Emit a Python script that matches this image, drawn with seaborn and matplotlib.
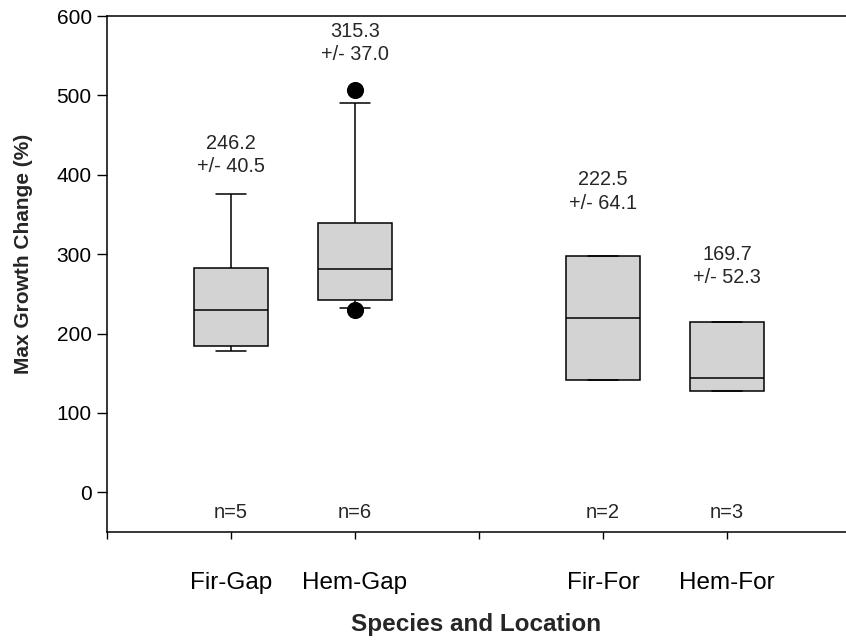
import numpy as np
import pandas as pd
import matplotlib
matplotlib.use("Agg")
import matplotlib.pyplot as plt
import seaborn as sns

# values
groups = ["Fir-Gap", "Hem-Gap", "Fir-For", "Hem-For"]
n_obs = [5, 6, 2, 3]
whisker_low = [178, 232, 142, 127]
quart_low = [184, 242, 142, 127]
medians = [230, 281, 219, 144]
quart_high = [283, 339, 298, 214]
whisker_high = [376, 490, 298, 214]
outlier_group = ["Hem-Gap", "Hem-Gap"]
outlier_values = [507, 230]
means = [246.2, 315.3, 222.5, 169.7]
errors = [40.5, 37.0, 64.1, 52.3]

# layout
xpos = {"Fir-Gap": 1, "Hem-Gap": 2, "Fir-For": 4, "Hem-For": 5}
label_y = [425, 566, 379, 285]

# five-number summary per group -> with whis=(0, 100) and 5 values,
# the drawn box is exactly (min, q1, median, q3, max)
rows = []
for i, g in enumerate(groups):
    for v in [whisker_low[i], quart_low[i], medians[i], quart_high[i], whisker_high[i]]:
        rows.append({"group": g, "pos": xpos[g], "value": v})
df = pd.DataFrame(rows)

sns.set_theme(style="ticks")
plt.rcParams["font.family"] = ["Liberation Sans", "DejaVu Sans"]

fig = plt.figure(figsize=(8.46, 6.42), dpi=100)
ax = fig.add_axes([107 / 846, 110 / 642, 1 - 107 / 846, 516 / 642])

sns.boxplot(data=df, x="pos", y="value", native_scale=True, orient="x",
            whis=(0, 100), showfliers=False, width=0.6, color="#d3d3d3",
            saturation=1, linecolor="black", linewidth=1.1,
            capwidths=0.24, ax=ax)

sns.scatterplot(x=[xpos[g] for g in outlier_group], y=outlier_values,
                color="black", edgecolor="black", s=130, zorder=5,
                legend=False, ax=ax)

for i, g in enumerate(groups):
    ax.text(xpos[g], label_y[i], f"{means[i]:.1f}\n+/- {errors[i]:.1f}",
            ha="center", va="center", fontsize=14.3, linespacing=1.3)
    ax.text(xpos[g], -25, f"n={n_obs[i]}", ha="center", va="center",
            fontsize=14.5)

ax.set_xlim(0, (846 - 107) / 124)
ax.set_ylim(-50, 600)
ax.set_xticks(range(0, 6))
ax.set_xticklabels(["", "Fir-Gap", "Hem-Gap", "", "Fir-For", "Hem-For"])
ax.set_yticks(range(0, 601, 100))

for side in ["left", "bottom", "top"]:
    ax.spines[side].set_color("black")
    ax.spines[side].set_linewidth(1.1)
ax.spines["right"].set_visible(False)

ax.tick_params(axis="y", length=7, width=1, pad=4, labelsize=15, colors="black")
ax.tick_params(axis="x", length=5, width=1, pad=24, labelsize=17.5, colors="black")

ax.set_xlabel("Species and Location", fontsize=17.5, fontweight="bold", labelpad=13.5)
ax.set_ylabel("Max Growth Change (%)", fontsize=15, fontweight="bold")
ax.yaxis.set_label_coords(-0.1, 350 / 650)

fig.savefig("out.png", dpi=100)
